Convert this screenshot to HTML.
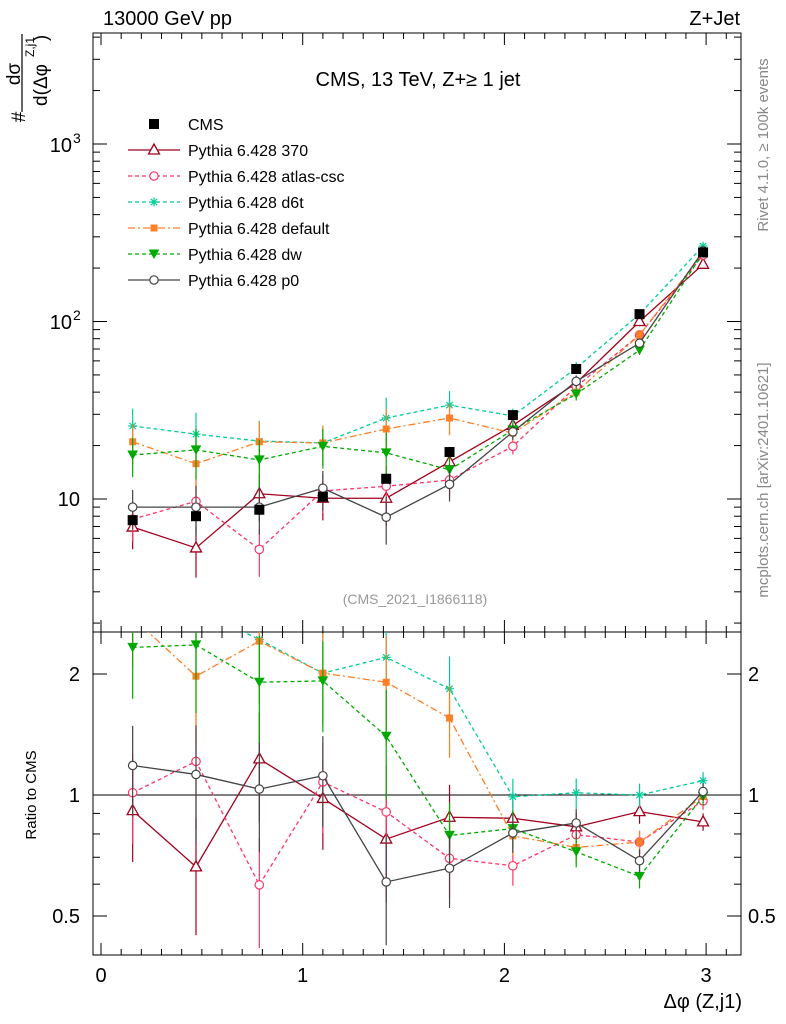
<!DOCTYPE html>
<html><head><meta charset="utf-8"><style>
body{margin:0;background:#fff}
svg{display:block;font-family:"Liberation Sans",sans-serif}
</style></head><body>
<svg id="c" width="786" height="1024"></svg>
<script>
const xs=[0.157,0.471,0.785,1.100,1.414,1.728,2.042,2.356,2.670,2.985];
const cmsV=[7.6,8.0,8.7,10.3,13.0,18.4,29.7,54,110,245];
const cmsE=[0.05,0.05,0.05,0.05,0.05,0.04,0.04,0.03,0.03,0.03];
const v370=[6.95,5.3,10.7,10.1,10.1,16.2,26,45,100,210];
const vAtlas=[7.7,9.7,5.2,11.1,11.8,12.8,19.8,43,84,237];
const vD6t=[25.8,23.2,21.2,20.7,28.6,33.8,29.4,54.7,110,266];
const vDef=[21,15.8,21,20.7,24.8,28.6,23.5,40,84,243];
const vDw=[17.7,18.9,16.6,19.8,18.2,14.6,24.5,39,69,243];
const vP0=[9.0,9.0,9.0,11.5,7.9,12.1,23.9,46,75.5,250];
const genE=[0.25,0.32,0.3,0.25,0.3,0.2,0.1,0.08,0.06,0.04];
const xTicks=[0,1,2,3];
const series=[
 {n:'Pythia 6.428 370',v:v370,c:'#a0001c',d:'',m:'tri'},
 {n:'Pythia 6.428 atlas-csc',v:vAtlas,c:'#ff3366',d:'4,3',m:'circ'},
 {n:'Pythia 6.428 d6t',v:vD6t,c:'#00cc99',d:'4,3',m:'star'},
 {n:'Pythia 6.428 default',v:vDef,c:'#ff7f27',d:'7,3,2,3',m:'sq'},
 {n:'Pythia 6.428 dw',v:vDw,c:'#00aa00',d:'4,3',m:'dtri'},
 {n:'Pythia 6.428 p0',v:vP0,c:'#444444',d:'',m:'circ'}];
const S=document.getElementById('c'),NS='http://www.w3.org/2000/svg';
function el(t,a,p){const e=document.createElementNS(NS,t);for(const k in a)e.setAttribute(k,a[k]);(p||S).appendChild(e);return e;}
const L=93,R=741,T1=33,B1=632,B2=955;
const X=x=>101+x*201.7;
const Y=v=>499-(Math.log10(v)-1)*177.5;
const YR=r=>795-Math.log2(r)*121;
function txt(s,x,y,o,name){const t=el('text',Object.assign({x:x,y:y,'font-size':18},o||{}));t.textContent=s;return t;}
const defs=el('defs',{});
const c1=el('clipPath',{id:'k1'},defs);el('rect',{x:L,y:T1,width:R-L,height:B1-T1},c1);
const c2=el('clipPath',{id:'k2'},defs);el('rect',{x:L,y:B1,width:R-L,height:B2-B1},c2);
const f1=el('rect',{x:L,y:T1,width:R-L,height:B1-T1,fill:'none',stroke:'#000'});

const f2=el('rect',{x:L,y:B1,width:R-L,height:B2-B1,fill:'none',stroke:'#000'});

for(let x=0;x<=3.15;x+=0.1){const big=Math.abs(x-Math.round(x))<1e-6;const len=big?12:6;
 for(const [yb,yt] of [[B1,T1],[B2,B1]]){el('line',{x1:X(x),x2:X(x),y1:yb,y2:yb-len,stroke:'#000'});el('line',{x1:X(x),x2:X(x),y1:yt,y2:yt+len,stroke:'#000'});}}
xTicks.forEach(t=>txt(String(t),X(t),982,{'text-anchor':'middle','font-size':20},'x-tick-label'));
for(let d=0;d<=3;d++)for(let m=1;m<10;m++){const v=m*Math.pow(10,d);const y=Y(v);if(y<T1||y>B1)continue;const len=m==1?14:7;
 el('line',{x1:L,x2:L+len,y1:y,y2:y,stroke:'#000'});el('line',{x1:R,x2:R-len,y1:y,y2:y,stroke:'#000'});}
txt('10',80,506,{'text-anchor':'end','font-size':20},'y-tick-label');
txt('10',72,329,{'text-anchor':'end','font-size':20},'y-tick-label');
txt('2',73,320,{'font-size':14},'y-tick-exp');
txt('10',72,152,{'text-anchor':'end','font-size':20},'y-tick-label');
txt('3',73,143,{'font-size':14},'y-tick-exp');
[0.4,0.5,0.6,0.7,0.8,0.9,1,2].forEach(r=>{const y=YR(r);const big=(r==0.5||r==1||r==2);const len=big?14:7;
 el('line',{x1:L,x2:L+len,y1:y,y2:y,stroke:'#000'});el('line',{x1:R,x2:R-len,y1:y,y2:y,stroke:'#000'});});
[[2,'2'],[1,'1'],[0.5,'0.5']].forEach(([r,s])=>{txt(s,80,YR(r)+7,{'text-anchor':'end','font-size':20},'ratio-tick-label');txt(s,748,YR(r)+7,{'font-size':20},'ratio-tick-label-right');});
const ref=el('line',{x1:L,x2:R,y1:YR(1),y2:YR(1),stroke:'#000'});

txt('13000 GeV pp',103,25,{'font-size':20},'energy-label');
txt('Z+Jet',740,25,{'text-anchor':'end','font-size':20},'process-label');
txt('CMS, 13 TeV, Z+≥ 1 jet',418,86,{'text-anchor':'middle','font-size':20},'plot-title');
txt('(CMS_2021_I1866118)',415,604,{'text-anchor':'middle','font-size':14,fill:'#999'},'analysis-id');
txt('Δφ (Z,j1)',742,1008,{'text-anchor':'end','font-size':20},'x-axis-title');
txt('Ratio to CMS',36,795,{'text-anchor':'middle','font-size':15,transform:'rotate(-90 36 795)'},'ratio-axis-title');
txt('Rivet 4.1.0, ≥ 100k events',768,145,{'text-anchor':'middle','font-size':15,fill:'#888',transform:'rotate(-90 768 145)'},'rivet-label');
txt('mcplots.cern.ch [arXiv:2401.10621]',768,480,{'text-anchor':'middle','font-size':15,fill:'#888',transform:'rotate(-90 768 480)'},'mcplots-label');
// y title
txt('#',25,117,{'text-anchor':'middle','font-size':19,transform:'rotate(-90 25 117)'},'y-title-hash');
txt('dσ',20,74,{'text-anchor':'middle','font-size':19,transform:'rotate(-90 20 74)'},'y-title-num');
const fl=el('line',{x1:22,x2:22,y1:34,y2:112,stroke:'#000','stroke-width':1.2});

txt('d(Δφ',47,85,{'text-anchor':'middle','font-size':19,transform:'rotate(-90 47 85)'},'y-title-den');
txt('Z,j1',34,47,{'text-anchor':'middle','font-size':12,transform:'rotate(-90 34 47)'},'y-title-sup');
txt(')',47,38,{'text-anchor':'middle','font-size':19,transform:'rotate(-90 47 38)'},'y-title-paren');
function marker(g,m,x,y,c){const s=5;
 if(m=='tri')el('polygon',{points:`${x},${y-s-1} ${x-s-0.5},${y+s-1} ${x+s+0.5},${y+s-1}`,fill:'#fff',stroke:c,'stroke-width':1.3},g);
 else if(m=='dtri')el('polygon',{points:`${x},${y+4} ${x-4.5},${y-4} ${x+4.5},${y-4}`,fill:c,stroke:c},g);
 else if(m=='circ')el('circle',{cx:x,cy:y,r:4.2,fill:'#fff',stroke:c,'stroke-width':1.2},g);
 else if(m=='sq')el('rect',{x:x-3.5,y:y-3.5,width:7,height:7,fill:c},g);
 else if(m=='bsq')el('rect',{x:x-5,y:y-5,width:10,height:10,fill:c},g);
 else if(m=='star'){for(let a=0;a<4;a++){const an=a*Math.PI/4;el('line',{x1:x-4.5*Math.cos(an),y1:y-4.5*Math.sin(an),x2:x+4.5*Math.cos(an),y2:y+4.5*Math.sin(an),stroke:c,'stroke-width':1.2},g);}}}
function drawSeries(vals,err,s,clip,fy){
 const g=el('g',{'clip-path':`url(#${clip})`});
 vals.forEach((v,i)=>{el('line',{x1:X(xs[i]),x2:X(xs[i]),y1:fy(v*(1+err[i])),y2:fy(v*(1-err[i])),stroke:s.c,'stroke-width':1.2},g);});
 if(s.m!='bsq')el('polyline',{points:vals.map((v,i)=>X(xs[i])+','+fy(v)).join(' '),fill:'none',stroke:s.c,'stroke-width':1.3,'stroke-dasharray':s.d},g);
 vals.forEach((v,i)=>marker(g,s.m,X(xs[i]),fy(v),s.c));}
series.forEach(s=>{drawSeries(s.v,genE,s,'k1',Y);
 const r=s.v.map((v,i)=>v/cmsV[i]);const re=genE.map((e,i)=>Math.sqrt(e*e+cmsE[i]*cmsE[i]));drawSeries(r,re,s,'k2',YR);});
drawSeries(cmsV,cmsE,{n:'CMS',c:'#000',d:'',m:'bsq'},'k1',Y);
const lg=el('g',{});
const ly0=124;
marker(lg,'bsq',154,ly0,'#000');txt('CMS',188,ly0+6,{'font-size':16},'legend-entry');
series.forEach((s,i)=>{const y=ly0+26*(i+1);el('line',{x1:128,x2:180,y1:y,y2:y,stroke:s.c,'stroke-width':1.3,'stroke-dasharray':s.d},lg);marker(lg,s.m,154,y,s.c);txt(s.n,188,y+6,{'font-size':16},'legend-entry');});
</script>
</body></html>
